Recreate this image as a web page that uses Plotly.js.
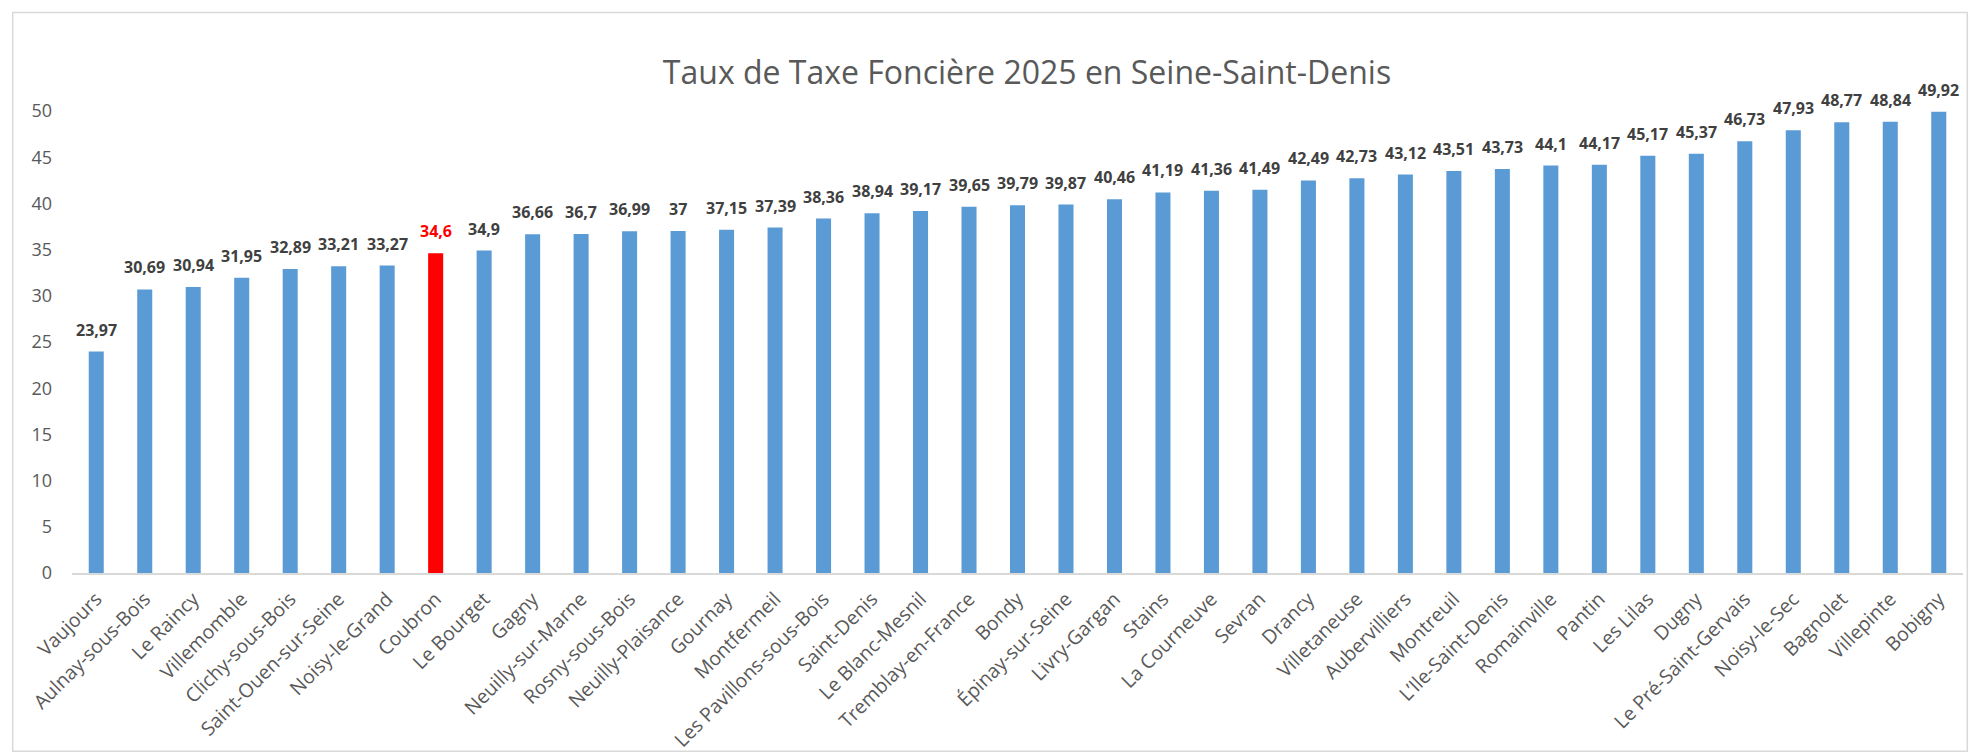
<!DOCTYPE html>
<html>
<head>
<meta charset="utf-8">
<script src="https://cdn.plot.ly/plotly-3.0.1.min.js"></script>
<style>
  html, body { margin: 0; padding: 0; background: #ffffff; }
  #chart { width: 1971px; height: 755px; }
</style>
</head>
<body>
<div id="chart"></div>
<script>
const cities = ["Vaujours","Aulnay-sous-Bois","Le Raincy","Villemomble","Clichy-sous-Bois","Saint-Ouen-sur-Seine","Noisy-le-Grand","Coubron","Le Bourget","Gagny","Neuilly-sur-Marne","Rosny-sous-Bois","Neuilly-Plaisance","Gournay","Montfermeil","Les Pavillons-sous-Bois","Saint-Denis","Le Blanc-Mesnil","Tremblay-en-France","Bondy","Épinay-sur-Seine","Livry-Gargan","Stains","La Courneuve","Sevran","Drancy","Villetaneuse","Aubervilliers","Montreuil","L’Ile-Saint-Denis","Romainville","Pantin","Les Lilas","Dugny","Le Pré-Saint-Gervais","Noisy-le-Sec","Bagnolet","Villepinte","Bobigny"];
const taux = [23.97,30.69,30.94,31.95,32.89,33.21,33.27,34.6,34.9,36.66,36.7,36.99,37,37.15,37.39,38.36,38.94,39.17,39.65,39.79,39.87,40.46,41.19,41.36,41.49,42.49,42.73,43.12,43.51,43.73,44.1,44.17,45.17,45.37,46.73,47.93,48.77,48.84,49.92];
const highlighted = "Coubron";
const yTicks = [0,5,10,15,20,25,30,35,40,45,50];
const chartTitle = "Taux de Taxe Foncière 2025 en Seine-Saint-Denis";

const BLUE = "#5b9bd5";
const RED = "#ff0000";
const colors = cities.map(c => c === highlighted ? RED : BLUE);
const fmt = v => String(v).replace(".", ",");

const trace = {
  type: "bar",
  x: cities,
  y: taux,
  marker: { color: colors, line: { width: 0 } },
  hoverinfo: "x+y"
};

const annotations = cities.map((c, i) => ({
  x: c, y: taux[i], xref: "x", yref: "y",
  text: "<b>" + fmt(taux[i]) + "</b>",
  showarrow: false,
  yanchor: "middle",
  yshift: 22,
  font: { family: "Open Sans", size: 16, color: c === highlighted ? RED : "#404040" }
}));

// chart-area frame (pixel bounds converted to paper coords)
const L = 72.3, R = 1962.7, T = 110.6, B = 573.5;
const px = v => (v - L) / (R - L);
const py = v => (B - v) / (B - T);

const layout = {
  width: 1971, height: 755,
  margin: { l: L, r: 1971 - R, t: T, b: 755 - B, pad: 0 },
  paper_bgcolor: "#ffffff",
  plot_bgcolor: "#ffffff",
  showlegend: false,
  bargap: 0.69,
  title: {
    text: chartTitle,
    font: { family: "Open Sans", size: 32, color: "#595959" },
    xref: "container", yref: "container",
    x: 1027 / 1971, y: 1 - 73 / 755,
    xanchor: "center", yanchor: "middle"
  },
  xaxis: {
    type: "category",
    tickangle: -45,
    tickfont: { family: "Open Sans", size: 19.5, color: "#595959" },
    showline: true, linecolor: "#d9d9d9", linewidth: 2,
    showgrid: false, zeroline: false,
    ticks: "", ticklabelstandoff: 5, automargin: false
  },
  yaxis: {
    range: [0, 50],
    tickvals: yTicks,
    ticktext: yTicks.map(String),
    tickfont: { family: "Open Sans", size: 18, color: "#595959" },
    showgrid: false, zeroline: false, showline: false,
    ticks: "", ticklabelstandoff: 19, automargin: false
  },
  annotations: annotations,
  shapes: [{
    type: "rect", xref: "paper", yref: "paper",
    x0: px(13), x1: px(1967), y0: py(752), y1: py(12),
    line: { color: "#d9d9d9", width: 1.5 }, fillcolor: "rgba(0,0,0,0)",
    layer: "below"
  }]
};

Plotly.newPlot("chart", [trace], layout, { displayModeBar: false, staticPlot: true });
</script>
</body>
</html>
